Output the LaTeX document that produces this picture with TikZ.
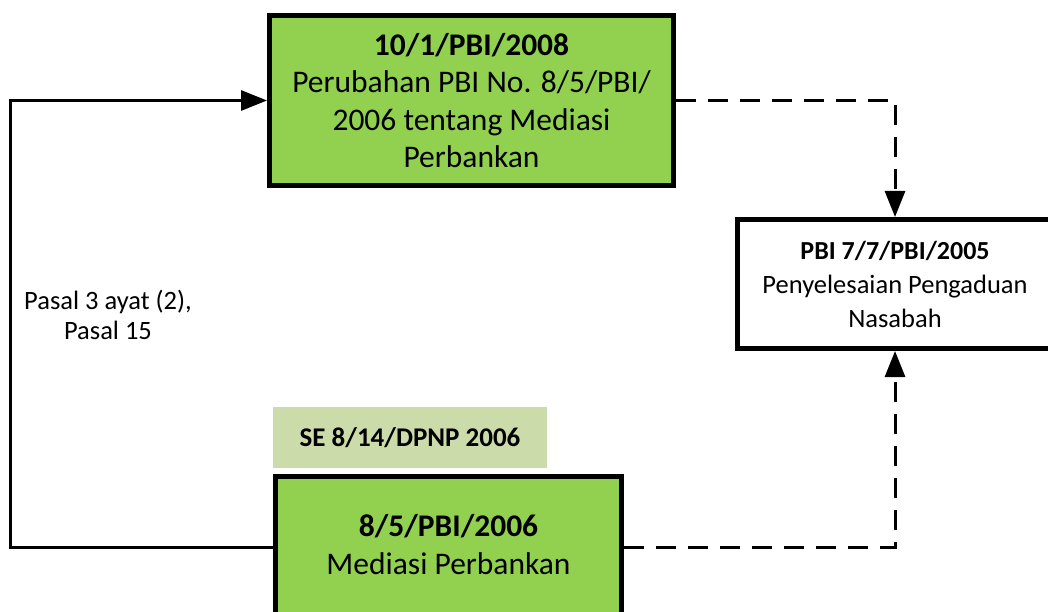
\documentclass[tikz,border=0pt]{standalone}
\usepackage{fontspec}
\setmainfont{Carlito}
\usetikzlibrary{arrows.meta,positioning}

\definecolor{lawgreen}{HTML}{92D050}
\definecolor{sepale}{HTML}{CCDBAA}

\begin{document}
\begin{tikzpicture}[
    x=1pt, y=-1pt,
    rule/.style={draw=black, line width=5pt, align=center, inner sep=4pt},
    pbi/.style={rule, fill=lawgreen, font=\fontsize{31.5}{37.5}\selectfont},
    ref/.style={rule, fill=white, font=\fontsize{26.5}{34}\selectfont},
    circular/.style={fill=sepale, align=center, inner sep=0pt, font=\fontsize{27}{32}\selectfont\bfseries},
    link/.style={line width=3pt, -{Triangle[length=26pt, width=20pt]}},
    cites/.style={link, dash pattern=on 20pt off 12pt},
]
\useasboundingbox (0,0) rectangle (1048,612);
\clip (0,0) rectangle (1048,612);

\node[pbi, minimum width=404pt, minimum height=170pt] (amend) at (471.5,100.5)
  {\textbf{10/1/PBI/2008}\\Perubahan PBI No. 8/5/PBI/\\2006 tentang Mediasi\\Perbankan};
\node[ref, minimum width=315pt, minimum height=129pt] (complaint) at (895,284)
  {{\fontsize{26}{34}\selectfont\bfseries PBI 7/7/PBI/2005}\\Penyelesaian Pengaduan\\Nasabah};
\node[pbi, minimum width=346pt, minimum height=141pt] (mediation) at (448.5,547)
  {\textbf{8/5/PBI/2006}\\Mediasi Perbankan\vphantom{g}};
\node[circular, minimum width=274pt, minimum height=61pt] (circ) at (410,437.5) {SE 8/14/DPNP 2006};
\node[align=center, font=\fontsize{26.5}{30}\selectfont] (article) at (108,315) {Pasal 3 ayat (2),\\Pasal 15};

% amendment and cited regulation
\draw[link] (mediation.west) -- ++(-263,0) |- (amend.west);
\draw[cites] (amend.east) -| (complaint.north);
\draw[cites] (mediation.east) -| (complaint.south);
\end{tikzpicture}
\end{document}
